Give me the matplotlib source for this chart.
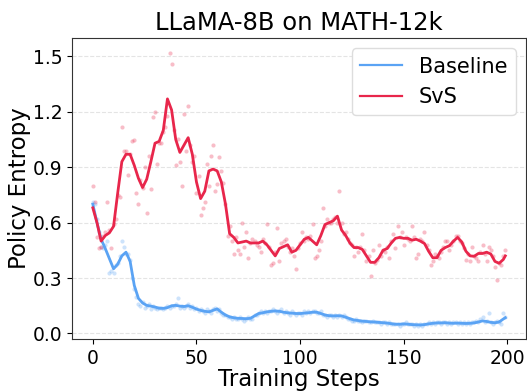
import matplotlib
matplotlib.use("Agg")
import matplotlib.pyplot as plt
from matplotlib.lines import Line2D
import numpy as np

# raw per-step entropy (scatter), steps 0..199
steps = np.arange(200)

baseline_raw = [
    0.71, 0.70, 0.62, 0.55, 0.47, 0.46, 0.48, 0.50, 0.33, 0.34,
    0.33, 0.37, 0.38, 0.42, 0.50, 0.47, 0.43, 0.43, 0.40, 0.30,
    0.24, 0.20, 0.16, 0.15, 0.17, 0.14, 0.15, 0.16, 0.13, 0.15,
    0.14, 0.13, 0.14, 0.14, 0.13, 0.14, 0.15, 0.14, 0.15, 0.15,
    0.16, 0.19, 0.14, 0.15, 0.14, 0.15, 0.16, 0.14, 0.15, 0.13,
    0.14, 0.12, 0.13, 0.12, 0.11, 0.13, 0.12, 0.11, 0.13, 0.14,
    0.12, 0.13, 0.11, 0.10, 0.10, 0.09, 0.09, 0.08, 0.09, 0.08,
    0.08, 0.09, 0.08, 0.07, 0.08, 0.09, 0.08, 0.08, 0.10, 0.10,
    0.11, 0.12, 0.11, 0.12, 0.11, 0.12, 0.12, 0.13, 0.12, 0.11,
    0.12, 0.13, 0.11, 0.12, 0.11, 0.10, 0.12, 0.11, 0.10, 0.11,
    0.11, 0.10, 0.12, 0.11, 0.12, 0.11, 0.12, 0.12, 0.11, 0.11,
    0.12, 0.10, 0.10, 0.09, 0.10, 0.10, 0.09, 0.10, 0.09, 0.10,
    0.09, 0.10, 0.09, 0.08, 0.08, 0.07, 0.07, 0.08, 0.07, 0.07,
    0.06, 0.07, 0.07, 0.06, 0.06, 0.07, 0.06, 0.06, 0.06, 0.05,
    0.06, 0.06, 0.05, 0.06, 0.05, 0.05, 0.05, 0.05, 0.04, 0.05,
    0.05, 0.06, 0.05, 0.05, 0.05, 0.04, 0.05, 0.04, 0.05, 0.04,
    0.05, 0.05, 0.06, 0.05, 0.06, 0.05, 0.06, 0.06, 0.05, 0.06,
    0.06, 0.05, 0.06, 0.05, 0.06, 0.06, 0.05, 0.06, 0.05, 0.06,
    0.05, 0.06, 0.05, 0.06, 0.06, 0.07, 0.06, 0.08, 0.09, 0.06,
    0.07, 0.11, 0.06, 0.05, 0.06, 0.07, 0.06, 0.05, 0.11, 0.09,
]

svs_raw = [
    0.80, 0.71, 0.52, 0.46, 0.47, 0.53, 0.55, 0.71, 0.56, 0.46,
    0.59, 0.62, 0.75, 0.74, 1.12, 0.99, 0.99, 0.86, 0.97, 1.04,
    1.05, 0.76, 0.70, 0.83, 0.79, 0.90, 0.65, 0.96, 0.78, 1.17,
    1.20, 0.92, 1.03, 1.03, 1.09, 1.12, 1.18, 1.52, 1.46, 1.10,
    0.91, 1.055, 0.93, 0.80, 1.19, 0.99, 1.23, 1.02, 0.93, 0.96,
    0.76, 0.85, 0.64, 0.68, 0.71, 0.92, 0.80, 0.96, 1.02, 0.77,
    0.81, 0.955, 0.88, 0.815, 0.70, 0.53, 0.58, 0.50, 0.43, 0.52,
    0.45, 0.43, 0.60, 0.47, 0.55, 0.41, 0.49, 0.51, 0.50, 0.48,
    0.47, 0.44, 0.51, 0.49, 0.59, 0.47, 0.37, 0.38, 0.44, 0.57,
    0.39, 0.49, 0.50, 0.51, 0.47, 0.44, 0.46, 0.42, 0.35, 0.46,
    0.49, 0.55, 0.50, 0.52, 0.51, 0.53, 0.59, 0.41, 0.42, 0.45,
    0.50, 0.68, 0.58, 0.62, 0.60, 0.60, 0.62, 0.63, 0.60, 0.77,
    0.60, 0.54, 0.55, 0.51, 0.49, 0.48, 0.42, 0.47, 0.44, 0.47,
    0.54, 0.45, 0.39, 0.42, 0.31, 0.45, 0.38, 0.40, 0.48, 0.42,
    0.45, 0.44, 0.47, 0.41, 0.50, 0.54, 0.46, 0.58, 0.52, 0.55,
    0.48, 0.52, 0.51, 0.50, 0.58, 0.52, 0.41, 0.43, 0.51, 0.50,
    0.55, 0.48, 0.45, 0.37, 0.39, 0.43, 0.42, 0.41, 0.44, 0.47,
    0.50, 0.50, 0.45, 0.48, 0.50, 0.53, 0.53, 0.50, 0.49, 0.46,
    0.40, 0.43, 0.39, 0.47, 0.42, 0.41, 0.39, 0.44, 0.48, 0.43,
    0.39, 0.47, 0.45, 0.42, 0.36, 0.29, 0.38, 0.37, 0.42, 0.45,
]

# smoothed curves, read every 2 steps
smooth_steps = list(range(0, 200, 2)) + [199]

baseline_smooth = [
    0.70, 0.60, 0.51, 0.46, 0.405, 0.35, 0.375, 0.42, 0.44, 0.39,
    0.26, 0.19, 0.165, 0.152, 0.148, 0.143, 0.137, 0.136, 0.14, 0.15,
    0.152, 0.148, 0.146, 0.15, 0.142, 0.132, 0.125, 0.12, 0.117, 0.125,
    0.133, 0.115, 0.10, 0.09, 0.085, 0.082, 0.081, 0.08, 0.082, 0.095,
    0.108, 0.112, 0.117, 0.12, 0.122, 0.12, 0.115, 0.112, 0.11, 0.108,
    0.108, 0.11, 0.112, 0.115, 0.115, 0.108, 0.10, 0.096, 0.095, 0.096,
    0.095, 0.088, 0.08, 0.073, 0.07, 0.067, 0.065, 0.063, 0.062, 0.06,
    0.058, 0.056, 0.053, 0.05, 0.05, 0.052, 0.05, 0.048, 0.047, 0.046,
    0.048, 0.052, 0.055, 0.057, 0.057, 0.058, 0.056, 0.055, 0.056, 0.055,
    0.054, 0.055, 0.057, 0.062, 0.068, 0.065, 0.06, 0.058, 0.062, 0.078,
    0.085,
]

svs_smooth = [
    0.68, 0.60, 0.50, 0.53, 0.545, 0.58, 0.76, 0.93, 0.97, 0.97,
    0.91, 0.84, 0.79, 0.835, 0.93, 1.03, 1.04, 1.10, 1.27, 1.21,
    1.05, 0.98, 1.02, 1.06, 0.97, 0.82, 0.73, 0.77, 0.88, 0.89,
    0.88, 0.82, 0.70, 0.54, 0.52, 0.49, 0.495, 0.50, 0.49, 0.49,
    0.49, 0.50, 0.48, 0.45, 0.42, 0.46, 0.47, 0.48, 0.44, 0.45,
    0.48, 0.51, 0.52, 0.50, 0.48, 0.53, 0.59, 0.60, 0.61, 0.635,
    0.56, 0.53, 0.49, 0.465, 0.465, 0.455, 0.42, 0.385, 0.385, 0.41,
    0.45, 0.46, 0.49, 0.515, 0.52, 0.515, 0.515, 0.505, 0.51, 0.50,
    0.487, 0.445, 0.41, 0.41, 0.45, 0.465, 0.475, 0.50, 0.52, 0.495,
    0.445, 0.42, 0.418, 0.433, 0.433, 0.44, 0.43, 0.39, 0.38, 0.40,
    0.42,
]

blue = "#5AA3F4"
red = "#E8264B"

fig = plt.figure(figsize=(5.27, 3.91), dpi=100)
ax = fig.add_axes([0.137, 0.133, 0.861, 0.770])

ax.scatter(steps, baseline_raw, s=9, color=blue, alpha=0.3, linewidths=0)
ax.scatter(steps, svs_raw, s=9, color=red, alpha=0.3, linewidths=0)
ax.plot(smooth_steps, baseline_smooth, color=blue, lw=2.0)
ax.plot(smooth_steps, svs_smooth, color=red, lw=2.0)

ax.set_xlim(-9.95, 208.95)
ax.set_ylim(-0.03, 1.6)
ax.set_xticks([0, 50, 100, 150, 200])
ax.set_yticks([0.0, 0.3, 0.6, 0.9, 1.2, 1.5])
ax.set_yticklabels(["0.0", "0.3", "0.6", "0.9", "1.2", "1.5"])
ax.tick_params(labelsize=13.5)
ax.yaxis.grid(True, linestyle="--", color="#d9d9d9", lw=0.8, alpha=0.7)
ax.set_axisbelow(True)
for sp in ax.spines.values():
    sp.set_color("#333333")

ax.set_title("LLaMA-8B on MATH-12k", fontsize=17.5)
ax.set_xlabel("Training Steps", fontsize=16.5, labelpad=0)
ax.set_ylabel("Policy Entropy", fontsize=16.5, labelpad=1)

handles = [Line2D([], [], color=blue, lw=1.6), Line2D([], [], color=red, lw=1.6)]
ax.legend(handles, ["Baseline", "SvS"], loc="upper right", fontsize=15,
          frameon=True, edgecolor="#dddddd", framealpha=1.0)

fig.savefig("out.png", dpi=100)
